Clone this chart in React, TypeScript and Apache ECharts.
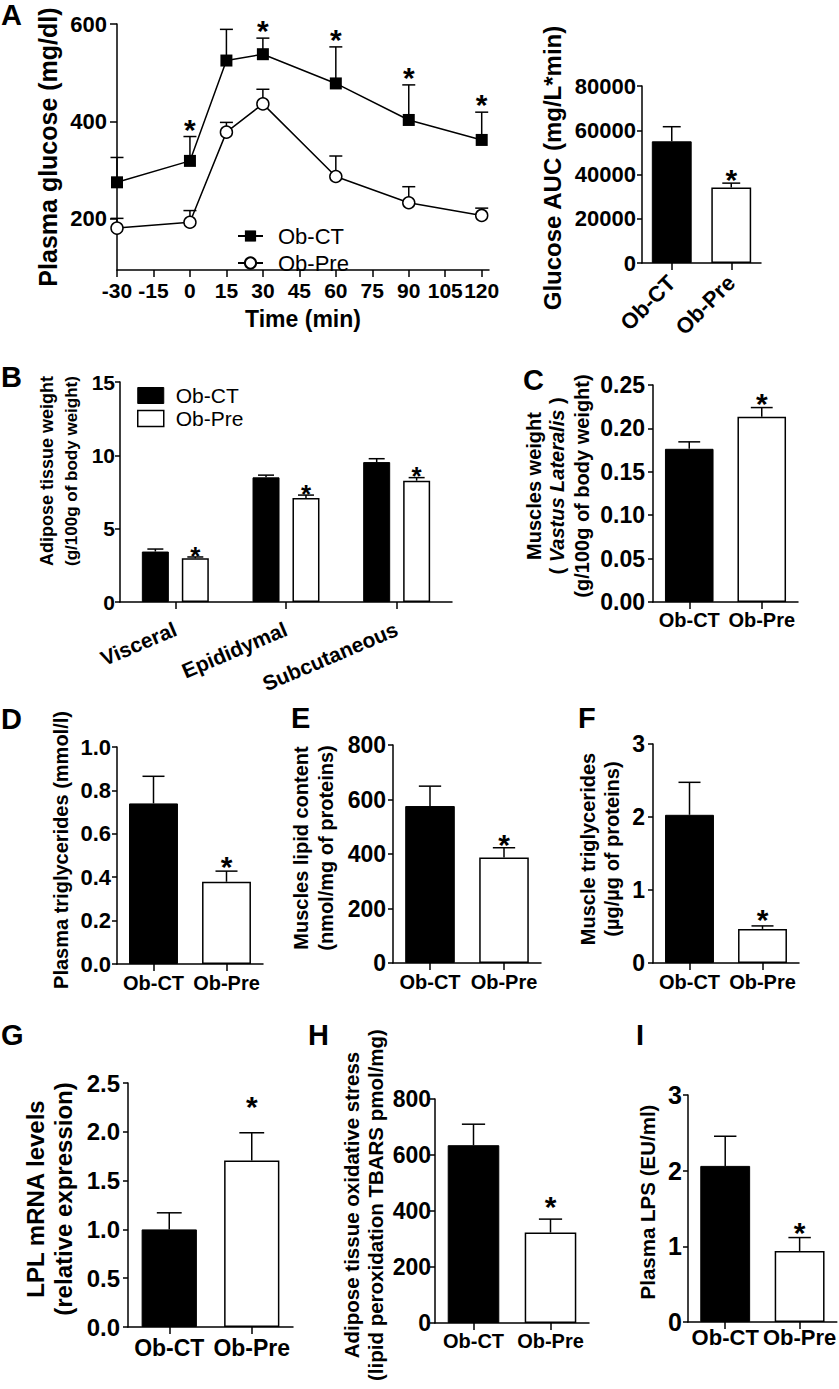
import React, { useEffect, useRef } from 'react';
import * as echarts from 'echarts';

const FONT = '"Liberation Sans", Arial, Helvetica, sans-serif';

// ---------------- Data ----------------
// Panel A – glucose tolerance curve
const timePoints = [-30, 0, 15, 30, 60, 90, 120];
const timeTicks = [-30, -15, 0, 15, 30, 45, 60, 75, 90, 105, 120];
const glucoseTicks = [200, 400, 600];
const glucoseCT = [275, 319, 525, 538, 478, 403, 362];
const glucoseCTErr = [51, 50, 64, 33, 75, 72, 57];
const glucosePre = [181, 193, 378, 436, 287, 233, 207];
const glucosePreErr = [20, 24, 20, 30, 42, 33, 15];
const glucoseSig = [0, 1, 0, 1, 1, 1, 1];

// Groups for the two-bar panels
const groups = ['Ob-CT', 'Ob-Pre'];

// Panel A – AUC
const aucMean = [55000, 34100];
const aucErr = [6600, 2000];
const aucSig = [0, 1];

// Panel B – adipose tissue weight
const adiposeCats = ['Visceral', 'Epididymal', 'Subcutaneous'];
const adiposeCT = [3.44, 8.5, 9.54];
const adiposeCTErr = [0.17, 0.15, 0.23];
const adiposePre = [2.98, 7.09, 8.27];
const adiposePreErr = [0.09, 0.2, 0.21];
const adiposeSig = [1, 1, 1];

// Panel C – muscle weight
const muscleWeight = [0.1765, 0.2135];
const muscleWeightErr = [0.008, 0.0105];
const muscleWeightSig = [0, 1];

// Panel D – plasma triglycerides
const plasmaTG = [0.74, 0.379];
const plasmaTGErr = [0.125, 0.049];
const plasmaTGSig = [0, 1];

// Panel E – muscle lipid content
const muscleLipid = [576, 387];
const muscleLipidErr = [73, 36];
const muscleLipidSig = [0, 1];

// Panel F – muscle triglycerides
const muscleTG = [2.03, 0.467];
const muscleTGErr = [0.445, 0.041];
const muscleTGSig = [0, 1];

// Panel G – LPL mRNA
const lplMrna = [1.0, 1.706];
const lplMrnaErr = [0.17, 0.284];
const lplMrnaSig = [0, 1];

// Panel H – TBARS
const tbars = [635, 323];
const tbarsErr = [75, 48];
const tbarsSig = [0, 1];

// Panel I – plasma LPS
const plasmaLPS = [2.063, 0.939];
const plasmaLPSErr = [0.392, 0.177];
const plasmaLPSSig = [0, 1];

// ---------------- Styles ----------------
const axisLineStyle = { color: '#000', width: 1.5 };
const blackItem = { color: '#000', borderColor: '#000', borderWidth: 1 };
const whiteItem = { color: '#fff', borderColor: '#000', borderWidth: 1.5 };

type TwoBarPanel = {
  name: string;
  mean: number[];
  err: number[];
  sig: number[];
  grid: { left: number; top: number; width: number; height: number };
  max: number;
  interval: number;
  dec: number;
  tickFont: number;
  tickMargin: number;
  catFont: number;
  catMargin: number;
  catRotate: number;
  starGap: number;
  starSize: number;
};

const twoBarPanels: TwoBarPanel[] = [
  { name: 'AUC', mean: aucMean, err: aucErr, sig: aucSig, grid: { left: 642, top: 86, width: 119, height: 177 }, max: 80000, interval: 20000, dec: 0, tickFont: 22, tickMargin: 6, catFont: 22, catMargin: 16, catRotate: 45, starGap: 10, starSize: 30 },
  { name: 'C', mean: muscleWeight, err: muscleWeightErr, sig: muscleWeightSig, grid: { left: 653, top: 385, width: 145, height: 217 }, max: 0.25, interval: 0.05, dec: 2, tickFont: 23, tickMargin: 8, catFont: 20, catMargin: 8, catRotate: 0, starGap: 11, starSize: 30 },
  { name: 'D', mean: plasmaTG, err: plasmaTGErr, sig: plasmaTGSig, grid: { left: 117, top: 747, width: 146, height: 217 }, max: 1, interval: 0.2, dec: 1, tickFont: 22, tickMargin: 6, catFont: 20, catMargin: 9, catRotate: 0, starGap: 11, starSize: 30 },
  { name: 'E', mean: muscleLipid, err: muscleLipidErr, sig: muscleLipidSig, grid: { left: 393, top: 745, width: 148, height: 218 }, max: 800, interval: 200, dec: 0, tickFont: 23, tickMargin: 7, catFont: 20, catMargin: 9, catRotate: 0, starGap: 10, starSize: 30 },
  { name: 'F', mean: muscleTG, err: muscleTGErr, sig: muscleTGSig, grid: { left: 653, top: 744, width: 146, height: 219 }, max: 3, interval: 1, dec: 0, tickFont: 23, tickMargin: 8, catFont: 20, catMargin: 9, catRotate: 0, starGap: 13, starSize: 30 },
  { name: 'G', mean: lplMrna, err: lplMrnaErr, sig: lplMrnaSig, grid: { left: 128, top: 1083, width: 165, height: 244 }, max: 2.5, interval: 0.5, dec: 1, tickFont: 24, tickMargin: 8, catFont: 23, catMargin: 9, catRotate: 0, starGap: 33, starSize: 30 },
  { name: 'H', mean: tbars, err: tbarsErr, sig: tbarsSig, grid: { left: 435, top: 1099, width: 154, height: 224 }, max: 800, interval: 200, dec: 0, tickFont: 23, tickMargin: 4, catFont: 20, catMargin: 8, catRotate: 0, starGap: 19, starSize: 30 },
  { name: 'I', mean: plasmaLPS, err: plasmaLPSErr, sig: plasmaLPSSig, grid: { left: 688, top: 1095, width: 150, height: 227 }, max: 3, interval: 1, dec: 0, tickFont: 25, tickMargin: 6, catFont: 22, catMargin: 4, catRotate: 0, starGap: 12, starSize: 30 },
];

// panel letters: [letter, x, y(cap centre)]
const panelLetters: [string, number, number][] = [
  ['A', 1, 15], ['B', 1, 377], ['C', 523, 380], ['D', 1, 719], ['E', 291, 718],
  ['F', 578, 718], ['G', 1, 1035], ['H', 308, 1035], ['I', 636, 1035],
];

// y-axis titles: [text, x, y, fontSize]
const yTitles: [string, number, number, number][] = [
  ['Plasma glucose (mg/dl)', 48, 147, 25],
  ['Glucose AUC (mg/L*min)', 552, 168, 24],
  ['Adipose tissue weight', 47, 471, 18],
  ['(g/100g of body weight)', 71, 471, 17],
  ['Muscles weight', 534, 486, 20],
  ['(g/100g of body weight)', 582, 486, 20],
  ['Plasma triglycerides (mmol/l)', 61, 850, 20],
  ['Muscles lipid content', 301, 848, 20],
  ['(nmol/mg of proteins)', 326, 848, 20],
  ['Muscle triglycerides', 588, 849, 20],
  ['(µg/µg of proteins)', 612, 849, 20],
  ['LPL mRNA levels', 35, 1199, 24],
  ['(relative expression)', 63, 1199, 24],
  ['Adipose tissue oxidative stress', 351, 1205, 20.5],
  ['(lipid peroxidation TBARS pmol/mg)', 375, 1205, 20.5],
  ['Plasma LPS (EU/ml)', 647, 1202, 20.5],
];

function errorSeries(
  name: string,
  axisIndex: number,
  points: number[][],
  opts: { offset?: number; capHalf?: number; capRatio?: number; starSize: number; starGap: number }
) {
  return {
    type: 'custom',
    name,
    xAxisIndex: axisIndex,
    yAxisIndex: axisIndex,
    z: 3,
    silent: true,
    data: points,
    renderItem: (params: any, api: any) => {
      const x = api.value(0);
      const m = api.value(1);
      const e = api.value(2);
      const s = api.value(3);
      const base = api.coord([x, m]);
      const top = api.coord([x, m + e]);
      const cx = base[0] + (opts.offset || 0);
      let half = opts.capHalf;
      if (half == null) half = (api.size([1, 0])[0] * (opts.capRatio || 0.3)) / 2;
      const ls = { stroke: '#000', lineWidth: 1.5 };
      const children: any[] = [
        { type: 'line', shape: { x1: cx, y1: base[1], x2: cx, y2: top[1] }, style: ls },
        { type: 'line', shape: { x1: cx - half, y1: top[1], x2: cx + half, y2: top[1] }, style: ls },
      ];
      if (s) {
        children.push({
          type: 'text',
          x: cx,
          y: top[1] - opts.starGap + 0.225 * opts.starSize,
          style: {
            text: '*',
            fontSize: opts.starSize,
            fontWeight: 'bold',
            fontFamily: FONT,
            fill: '#000',
            align: 'center',
            verticalAlign: 'middle',
          },
        });
      }
      return { type: 'group', children };
    },
  };
}

function valueYAxis(idx: number, max: number, interval: number, dec: number, font: number, margin: number) {
  return {
    type: 'value',
    gridIndex: idx,
    min: 0,
    max,
    interval,
    axisLine: { show: true, onZero: false, lineStyle: axisLineStyle },
    axisTick: { show: true, length: 5, lineStyle: axisLineStyle },
    splitLine: { show: false },
    axisLabel: {
      color: '#000',
      fontFamily: FONT,
      fontWeight: 'bold',
      fontSize: font,
      margin,
      showMinLabel: true,
      showMaxLabel: true,
      formatter: (v: number) => v.toFixed(dec),
    },
  };
}

function catXAxis(idx: number, data: string[], font: number, margin: number, rotate: number) {
  return {
    type: 'category',
    gridIndex: idx,
    data,
    axisLine: { show: true, onZero: false, lineStyle: axisLineStyle },
    axisTick: { show: true, alignWithLabel: true, length: 7, lineStyle: axisLineStyle },
    splitLine: { show: false },
    axisLabel: {
      interval: 0,
      rotate,
      color: '#000',
      fontFamily: FONT,
      fontWeight: 'bold',
      fontSize: font,
      margin,
    },
  };
}

function buildOption() {
  const grids: any[] = [];
  const xAxes: any[] = [];
  const yAxes: any[] = [];
  const series: any[] = [];

  // ---- Grid 0: glucose curve ----
  grids.push({ left: 117, top: 24, width: 372, height: 246 });
  xAxes.push({
    type: 'value',
    gridIndex: 0,
    min: -30,
    max: 123,
    axisLine: { show: true, onZero: false, lineStyle: axisLineStyle },
    axisTick: { show: true, length: 7, customValues: timeTicks, lineStyle: axisLineStyle },
    splitLine: { show: false },
    axisLabel: {
      customValues: timeTicks,
      showMinLabel: true,
      showMaxLabel: true,
      hideOverlap: false,
      color: '#000',
      fontFamily: FONT,
      fontWeight: 'bold',
      fontSize: 21,
      margin: 10,
    },
  });
  yAxes.push({
    type: 'value',
    gridIndex: 0,
    min: 95,
    max: 600,
    axisLine: { show: true, onZero: false, lineStyle: axisLineStyle },
    axisTick: { show: true, length: 7, customValues: glucoseTicks, lineStyle: axisLineStyle },
    splitLine: { show: false },
    axisLabel: {
      customValues: glucoseTicks,
      showMinLabel: true,
      showMaxLabel: true,
      color: '#000',
      fontFamily: FONT,
      fontWeight: 'bold',
      fontSize: 22,
      margin: 10,
    },
  });
  series.push(
    errorSeries('glucose CT err', 0, timePoints.map((t, i) => [t, glucoseCT[i], glucoseCTErr[i], glucoseSig[i]]), {
      capHalf: 6.5,
      starSize: 30,
      starGap: 14,
    }),
    errorSeries('glucose Pre err', 0, timePoints.map((t, i) => [t, glucosePre[i], glucosePreErr[i], 0]), {
      capHalf: 6.5,
      starSize: 30,
      starGap: 14,
    }),
    {
      type: 'line',
      name: 'Ob-CT',
      xAxisIndex: 0,
      yAxisIndex: 0,
      data: timePoints.map((t, i) => [t, glucoseCT[i]]),
      symbol: 'rect',
      symbolSize: 12,
      lineStyle: { color: '#000', width: 1.5 },
      itemStyle: { color: '#000' },
      z: 4,
      silent: true,
    },
    {
      type: 'line',
      name: 'Ob-Pre',
      xAxisIndex: 0,
      yAxisIndex: 0,
      data: timePoints.map((t, i) => [t, glucosePre[i]]),
      symbol: 'circle',
      symbolSize: 12,
      lineStyle: { color: '#000', width: 1.5 },
      itemStyle: { color: '#fff', borderColor: '#000', borderWidth: 1.5 },
      z: 4,
      silent: true,
    }
  );

  const addTwoBar = (p: TwoBarPanel) => {
    const idx = grids.length;
    grids.push(p.grid);
    xAxes.push(catXAxis(idx, groups, p.catFont, p.catMargin, p.catRotate));
    yAxes.push(valueYAxis(idx, p.max, p.interval, p.dec, p.tickFont, p.tickMargin));
    series.push({
      type: 'bar',
      name: p.name + ' bars',
      xAxisIndex: idx,
      yAxisIndex: idx,
      barWidth: '67%',
      z: 2,
      silent: true,
      data: p.mean.map((v, j) => ({ value: v, itemStyle: j === 0 ? blackItem : whiteItem })),
    });
    series.push(
      errorSeries(p.name + ' err', idx, p.mean.map((v, j) => [j, v, p.err[j], p.sig[j]]), {
        capRatio: 0.67 * 0.45,
        starSize: p.starSize,
        starGap: p.starGap,
      })
    );
  };

  addTwoBar(twoBarPanels[0]); // AUC -> grid 1

  // ---- Grid 2: panel B ----
  {
    const idx = grids.length;
    const barW = 27;
    const gapRatio = 0.48;
    const off = (barW * (1 + gapRatio)) / 2;
    grids.push({ left: 120, top: 382, width: 332, height: 220 });
    xAxes.push(catXAxis(idx, adiposeCats, 21, 26, 23));
    yAxes.push(valueYAxis(idx, 15, 5, 0, 21, 5));
    series.push(
      {
        type: 'bar',
        name: 'B: Ob-CT',
        xAxisIndex: idx,
        yAxisIndex: idx,
        barWidth: barW,
        barGap: gapRatio * 100 + '%',
        itemStyle: blackItem,
        data: adiposeCT,
        z: 2,
        silent: true,
      },
      {
        type: 'bar',
        name: 'B: Ob-Pre',
        xAxisIndex: idx,
        yAxisIndex: idx,
        barWidth: barW,
        barGap: gapRatio * 100 + '%',
        itemStyle: whiteItem,
        data: adiposePre,
        z: 2,
        silent: true,
      },
      errorSeries('B CT err', idx, adiposeCats.map((c, j) => [j, adiposeCT[j], adiposeCTErr[j], 0]), {
        offset: -off,
        capHalf: 8,
        starSize: 26,
        starGap: 7,
      }),
      errorSeries('B Pre err', idx, adiposeCats.map((c, j) => [j, adiposePre[j], adiposePreErr[j], adiposeSig[j]]), {
        offset: off,
        capHalf: 8,
        starSize: 26,
        starGap: 7,
      })
    );
  }

  for (let k = 1; k < twoBarPanels.length; k++) addTwoBar(twoBarPanels[k]);

  // ---- Graphic texts ----
  const graphic: any[] = [];
  panelLetters.forEach(([t, x, y]) => {
    graphic.push({
      type: 'text',
      x,
      y,
      silent: true,
      style: { text: t, fontSize: 29, fontWeight: 'bold', fontFamily: FONT, fill: '#000', align: 'left', verticalAlign: 'middle' },
    });
  });
  yTitles.forEach(([t, x, y, s]) => {
    graphic.push({
      type: 'text',
      x,
      y,
      rotation: Math.PI / 2,
      silent: true,
      style: { text: t, fontSize: s, fontWeight: 'bold', fontFamily: FONT, fill: '#000', align: 'center', verticalAlign: 'middle' },
    });
  });
  graphic.push({
    type: 'text',
    x: 557,
    y: 486,
    rotation: Math.PI / 2,
    silent: true,
    style: {
      text: '( {i|Vastus Lateralis} )',
      fontSize: 20,
      fontWeight: 'bold',
      fontFamily: FONT,
      fill: '#000',
      align: 'center',
      verticalAlign: 'middle',
      rich: { i: { fontSize: 20, fontStyle: 'italic', fontWeight: 'bold', fontFamily: FONT, fill: '#000' } },
    },
  });
  graphic.push({
    type: 'text',
    x: 303,
    y: 319,
    silent: true,
    style: { text: 'Time (min)', fontSize: 23, fontWeight: 'bold', fontFamily: FONT, fill: '#000', align: 'center', verticalAlign: 'middle' },
  });

  return {
    backgroundColor: '#fff',
    animation: false,
    grid: grids,
    xAxis: xAxes,
    yAxis: yAxes,
    series,
    legend: [
      {
        left: 232,
        top: 220,
        orient: 'vertical',
        itemWidth: 25,
        itemHeight: 14,
        itemGap: 5,
        selectedMode: false,
        data: ['Ob-CT', 'Ob-Pre'],
        textStyle: { fontFamily: FONT, fontSize: 22, color: '#000', lineHeight: 22, padding: [0, 0, 0, 10] },
      },
      {
        left: 132,
        top: 380,
        orient: 'vertical',
        itemWidth: 26,
        itemHeight: 16,
        itemGap: 2,
        selectedMode: false,
        data: [
          { name: 'B: Ob-CT', icon: 'rect', itemStyle: blackItem },
          { name: 'B: Ob-Pre', icon: 'rect', itemStyle: whiteItem },
        ],
        formatter: (n: string) => n.slice(3),
        textStyle: { fontFamily: FONT, fontSize: 21, color: '#000', lineHeight: 20, padding: [0, 0, 0, 7] },
      },
    ],
    graphic,
  };
}

export default function App() {
  const ref = useRef<HTMLDivElement>(null);
  useEffect(() => {
    if (!ref.current) return;
    const chart = echarts.init(ref.current, undefined, { renderer: 'svg' });
    chart.setOption(buildOption() as any);
    return () => chart.dispose();
  }, []);
  return (
    <div
      ref={ref}
      style={{ position: 'absolute', left: 0, top: 0, width: 839, height: 1389, background: '#fff' }}
    />
  );
}
